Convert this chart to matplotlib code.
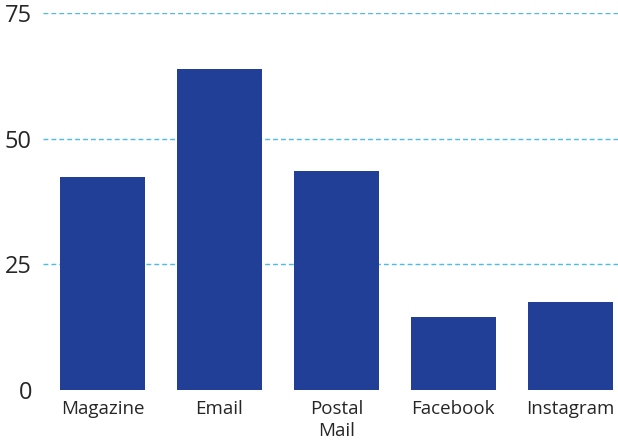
import matplotlib
matplotlib.use('Agg')
import matplotlib.pyplot as plt

plt.rcParams['font.family'] = ['Open Sans', 'DejaVu Sans']

categories = ['Magazine', 'Email', 'Postal\nMail', 'Facebook', 'Instagram']
values = [42.4, 63.9, 43.6, 14.5, 17.5]
y_ticks = [0, 25, 50, 75]

BAR_COLOR = '#223f97'
GRID_COLOR = '#4cbbe8'
TEXT_COLOR = '#262626'

fig = plt.figure(figsize=(6.18, 4.48), dpi=100)
ax = fig.add_axes([43 / 618, 58 / 448, 575 / 618, 377 / 448])

x = list(range(len(categories)))
ax.bar(x, values, width=0.727, color=BAR_COLOR, zorder=3)

ax.set_xlim(-0.51, 4.41)
ax.set_ylim(0, 75)
ax.set_yticks(y_ticks)
ax.set_yticklabels([str(t) for t in y_ticks], fontsize=17, color=TEXT_COLOR)
ax.set_xticks(x)
ax.set_xticklabels(categories, fontsize=13.5, color=TEXT_COLOR, linespacing=1.3, va='top')

for t in y_ticks[1:]:
    ax.axhline(t, color=GRID_COLOR, linestyle=(0, (3.5, 2.2)), linewidth=1.0, zorder=1)

for s in ax.spines.values():
    s.set_visible(False)
ax.tick_params(length=0)
ax.tick_params(axis='x', pad=7)
ax.tick_params(axis='y', pad=8)

fig.savefig('out.png', dpi=100)
